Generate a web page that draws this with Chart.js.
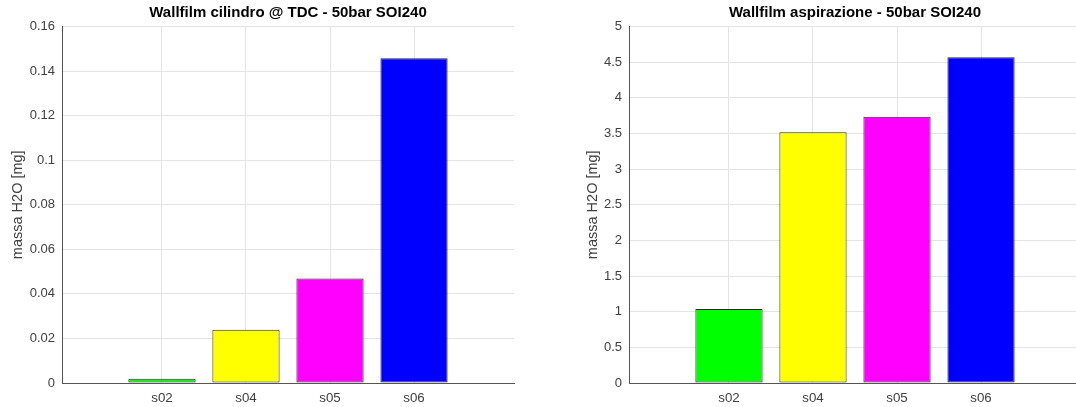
<!DOCTYPE html>
<html>
<head>
<meta charset="utf-8">
<script src="https://cdn.jsdelivr.net/npm/chart.js@4/dist/chart.umd.min.js"></script>
<style>
  html, body { margin: 0; padding: 0; background: #fff; overflow: hidden; width: 1076px; height: 407px; }
  .panel { position: absolute; top: 0; }
  canvas { display: block; }
</style>
</head>
<body>
<div class="panel" style="left:0px"><canvas id="cilindro" width="540" height="407"></canvas></div>
<div class="panel" style="left:540px"><canvas id="aspirazione" width="560" height="407"></canvas></div>
<script>
// Sweep cases and the measured water film mass for each
const categories = ['s02', 's04', 's05', 's06'];
const categoryPositions = [1, 2, 3, 4];
const cilindroValues = [0.0019, 0.0239, 0.0469, 0.1457];
const aspirazioneValues = [1.037, 3.518, 3.733, 4.570];

const cilindroTicks = [0, 0.02, 0.04, 0.06, 0.08, 0.1, 0.12, 0.14, 0.16];
const aspirazioneTicks = [0, 0.5, 1, 1.5, 2, 2.5, 3, 3.5, 4, 4.5, 5];

const cilindroTitle = 'Wallfilm cilindro @ TDC - 50bar SOI240';
const aspirazioneTitle = 'Wallfilm aspirazione - 50bar SOI240';
const yAxisLabel = 'massa H2O [mg]';

const barColors = ['#00ff00', '#ffff00', '#ff00ff', '#0000ff'];

const FONT = '"Liberation Sans", Arial, Helvetica, sans-serif';
const TEXT = '#404040';
const GRID = '#e4e4e4';
const AXIS = '#555555';

function fmt(v) { return String(+Number(v).toFixed(4)); }

function makeChart(id, values, yTicks, title, opts) {
  const data = categoryPositions.map((x, i) => ({ x: x, y: values[i] }));
  return new Chart(document.getElementById(id), {
    type: 'bar',
    data: {
      datasets: [{
        data: data,
        backgroundColor: barColors,
        borderColor: '#2b2b2b',
        borderWidth: 1,
        borderSkipped: false,
        barPercentage: 0.8,
        categoryPercentage: 1.0
      }]
    },
    options: {
      responsive: false,
      animation: false,
      events: [],
      layout: { padding: { left: 0, right: opts.padRight, top: 0, bottom: 0 } },
      plugins: {
        legend: { display: false },
        tooltip: { enabled: false },
        title: {
          display: true,
          fullSize: false,
          text: title,
          color: '#000000',
          font: { family: FONT, size: 15, weight: 'bold' },
          padding: { top: 4, bottom: 4.5 }
        }
      },
      scales: {
        x: {
          type: 'linear',
          min: -0.19,
          max: 5.19,
          offset: false,
          afterBuildTicks: s => { s.ticks = categoryPositions.map(v => ({ value: v })); },
          afterFit: s => { s.height = 24; },
          ticks: {
            autoSkip: false,
            maxRotation: 0,
            padding: 7,
            color: TEXT,
            font: { family: FONT, size: 13.3 },
            callback: v => categories[categoryPositions.indexOf(v)] ?? ''
          },
          grid: { color: GRID, drawTicks: false, offset: false },
          border: { display: true, color: AXIS, width: 1 }
        },
        y: {
          min: yTicks[0],
          max: yTicks[yTicks.length - 1],
          afterBuildTicks: s => { s.ticks = yTicks.map(v => ({ value: v })); },
          afterFit: s => { s.width = opts.yWidth; },
          ticks: {
            padding: 7,
            color: TEXT,
            font: { family: FONT, size: 13 },
            callback: v => fmt(v)
          },
          grid: { color: GRID, drawTicks: false },
          border: { display: true, color: AXIS, width: 1 },
          title: {
            display: true,
            text: yAxisLabel,
            color: TEXT,
            font: { family: FONT, size: 14.5 },
            padding: { top: opts.titleOffset, bottom: 0 }
          }
        }
      }
    }
  });
}

makeChart('cilindro', cilindroValues, cilindroTicks, cilindroTitle,
  { yWidth: 62, padRight: 26, titleOffset: 9.3 });
makeChart('aspirazione', aspirazioneValues, aspirazioneTicks, aspirazioneTitle,
  { yWidth: 89, padRight: 19, titleOffset: 44.5 });
</script>
</body>
</html>
